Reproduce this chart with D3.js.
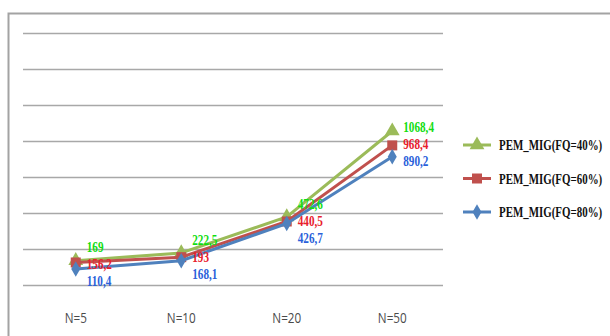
<!DOCTYPE html>
<html>
<head>
<meta charset="utf-8">
<script src="https://cdn.jsdelivr.net/npm/d3@7"></script>
<style>
  html, body { margin: 0; padding: 0; background: #fff; }
  svg { display: block; }
</style>
</head>
<body>
<svg id="chart" width="610" height="336"></svg>
<script>
// Run-time comparison of PEM_MIG for several fill ratios
const categories = ["N=5", "N=10", "N=20", "N=50"];
const seriesNames = ["PEM_MIG(FQ=40%)", "PEM_MIG(FQ=60%)", "PEM_MIG(FQ=80%)"];
const fq40 = [169, 222.5, 472.6, 1068.4];
const fq60 = [156.2, 193, 440.5, 968.4];
const fq80 = [110.4, 168.1, 426.7, 890.2];
const gridTicks = [0, 250, 500, 750, 1000, 1250, 1500, 1750];

const lineColors = ["#9BBB59", "#C0504D", "#4F81BD"];
const labelColors = ["#11DD11", "#E8202C", "#2A5FDA"];
const markerTypes = [d3.symbolTriangle, d3.symbolSquare, d3.symbolDiamond];
const markerSizes = [95, 100, 70];

const series = [fq40, fq60, fq80].map((values, i) => ({ name: seriesNames[i], values, i }));

const svg = d3.select("#chart");
const squeeze = 0.8;  // narrow glyphs

// Outer frame (left and top edges)
svg.append("path")
  .attr("d", "M8.5,336 V13.5 H610")
  .attr("fill", "none")
  .attr("stroke", "#a3a3a3")
  .attr("stroke-width", 2);

const x = d3.scaleBand().domain(categories).range([23, 445]).padding(0);
const y = d3.scaleLinear().domain([0, 1750]).range([285, 32.7]);

// Horizontal gridlines
svg.append("g").selectAll("line").data(gridTicks).join("line")
  .attr("x1", 23).attr("x2", 443)
  .attr("y1", d => Math.round(y(d)) + 0.5).attr("y2", d => Math.round(y(d)) + 0.5)
  .attr("stroke", "#a8a8a8").attr("stroke-width", 1.3);

// Category labels
svg.append("g").selectAll("text").data(categories).join("text")
  .attr("transform", d => `translate(${x(d) + x.bandwidth() / 2},323) scale(${squeeze - 0.02},1)`)
  .attr("text-anchor", "middle")
  .attr("font-family", "'Open Sans', 'DejaVu Sans', sans-serif")
  .attr("font-size", 15)
  .attr("fill", "#4a4a4a")
  .text(d => d);

const cx = c => x(c) + x.bandwidth() / 2;
const line = d3.line().x((d, j) => cx(categories[j])).y(d => y(d));
const fmt = v => String(v).replace(".", ",");

const g = svg.append("g").selectAll("g").data(series).join("g");

g.append("path")
  .attr("d", d => line(d.values))
  .attr("fill", "none")
  .attr("stroke", d => lineColors[d.i])
  .attr("stroke-width", 3)
  .attr("stroke-linejoin", "round");

g.each(function (s) {
  d3.select(this).selectAll("path.m").data(s.values).join("path")
    .attr("class", "m")
    .attr("transform", (d, j) => `translate(${cx(categories[j])},${y(d)})`)
    .attr("d", d3.symbol().type(markerTypes[s.i]).size(markerSizes[s.i]))
    .attr("fill", lineColors[s.i]);
});

// Value labels: spread vertically within each category so they stay legible
const minGap = 17;
const labels = [];
categories.forEach((c, j) => {
  const col = series.map(s => ({ s: s.i, v: s.values[j], j, ly: y(s.values[j]) }));
  col.sort((a, b) => a.ly - b.ly);
  for (let it = 0; it < 80; it++) {
    for (let k = 1; k < col.length; k++) {
      const gap = col[k].ly - col[k - 1].ly;
      if (gap < minGap) {
        const push = (minGap - gap) / 2;
        col[k - 1].ly -= push;
        col[k].ly += push;
      }
    }
  }
  labels.push(...col);
});

svg.append("g").selectAll("text").data(labels).join("text")
  .attr("transform", d => `translate(${cx(categories[d.j]) + 11},${d.ly + 5}) scale(${squeeze},1)`)
  .attr("font-family", "'Liberation Serif', 'Times New Roman', serif")
  .attr("font-weight", "bold")
  .attr("font-size", 14)
  .attr("fill", d => labelColors[d.s])
  .text(d => fmt(d.v));

// Legend
const legendY = [145, 178.5, 212];
const lg = svg.append("g").selectAll("g").data(series).join("g")
  .attr("transform", d => `translate(463,${legendY[d.i]})`);
lg.append("line")
  .attr("x1", 0).attr("x2", 28).attr("y1", 0).attr("y2", 0)
  .attr("stroke", d => lineColors[d.i]).attr("stroke-width", 3);
lg.append("path")
  .attr("transform", "translate(14,0)")
  .attr("d", d => d3.symbol().type(markerTypes[d.i]).size(markerSizes[d.i])())
  .attr("fill", d => lineColors[d.i]);
lg.append("text")
  .attr("transform", `translate(36,5) scale(${squeeze - 0.02},1)`)
  .attr("font-family", "'Liberation Serif', 'Times New Roman', serif")
  .attr("font-weight", "bold")
  .attr("font-size", 14)
  .attr("fill", "#111")
  .text(d => d.name);
</script>
</body>
</html>
